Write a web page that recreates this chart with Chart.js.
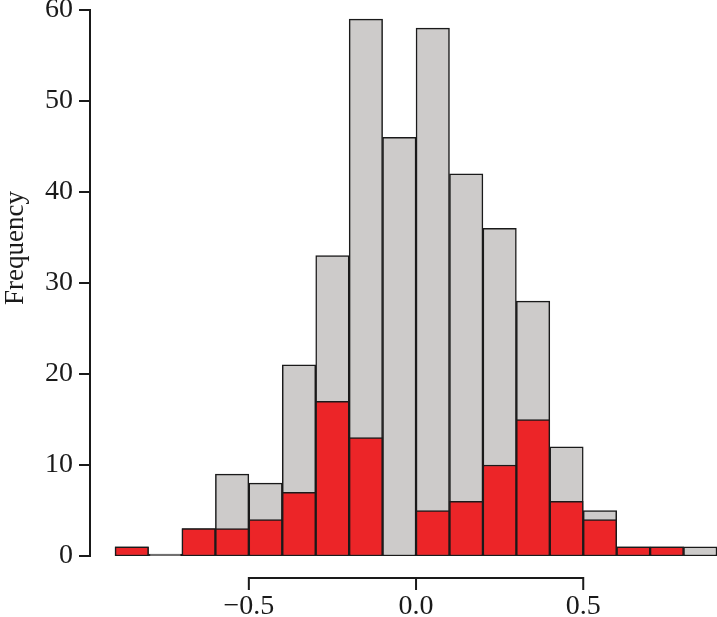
<!DOCTYPE html>
<html>
<head>
<meta charset="utf-8">
<script src="https://cdn.jsdelivr.net/npm/chart.js@4"></script>
<style>
html,body{margin:0;padding:0;background:#fff;}
#wrap{width:717px;height:617px;}
</style>
</head>
<body>
<div id="wrap"><canvas id="c" width="717" height="617"></canvas></div>
<script>
// Histogram bins (width 0.1), centers
const binCenters = [-0.85,-0.75,-0.65,-0.55,-0.45,-0.35,-0.25,-0.15,-0.05,0.05,0.15,0.25,0.35,0.45,0.55,0.65,0.75,0.85];
// All observations (grey)
const totalCounts = [1,0,3,9,8,21,33,59,46,58,42,36,28,12,5,1,1,1];
// Subset (red)
const subsetCounts = [1,0,3,3,4,7,17,13,0,5,6,10,15,6,4,1,1,0];
// Axis ticks
const xTicks = [-0.5, 0.0, 0.5];
const yTicks = [0,10,20,30,40,50,60];
const yTitle = 'Frequency';

const FONT = '"Liberation Serif", "Times New Roman", serif';
const INK = '#1a1a1a';

const axesPlugin = {
  id: 'rAxes',
  afterDraw(chart) {
    const ctx = chart.ctx;
    const xs = chart.scales.x, ys = chart.scales.y;
    ctx.save();
    ctx.strokeStyle = INK;
    ctx.lineWidth = 2;
    ctx.lineCap = 'square';
    // y axis
    const yx = xs.left;
    ctx.beginPath();
    ctx.moveTo(yx, ys.getPixelForValue(yTicks[0]));
    ctx.lineTo(yx, ys.getPixelForValue(yTicks[yTicks.length-1]));
    yTicks.forEach(v => {
      const p = ys.getPixelForValue(v);
      ctx.moveTo(yx, p); ctx.lineTo(yx - 10, p);
    });
    ctx.stroke();
    // x axis
    const xy = ys.bottom + 22;
    ctx.beginPath();
    ctx.moveTo(xs.getPixelForValue(xTicks[0]), xy);
    ctx.lineTo(xs.getPixelForValue(xTicks[xTicks.length-1]), xy);
    xTicks.forEach(v => {
      const p = xs.getPixelForValue(v);
      ctx.moveTo(p, xy); ctx.lineTo(p, xy + 11);
    });
    ctx.stroke();
    // y title
    ctx.fillStyle = INK;
    ctx.font = '27px ' + FONT;
    ctx.textAlign = 'center';
    ctx.textBaseline = 'middle';
    ctx.translate(16, 248);
    ctx.rotate(-Math.PI/2);
    ctx.fillText(yTitle, 0, 0);
    ctx.restore();
  }
};

const fmtX = v => (v < 0 ? '\u2212' : '') + Math.abs(v).toFixed(1);

new Chart(document.getElementById('c'), {
  type: 'bar',
  data: {
    datasets: [
      {
        label: 'subset',
        data: binCenters.map((c, i) => ({x: c, y: subsetCounts[i]})),
        backgroundColor: '#ec2528',
        borderColor: INK,
        borderWidth: 1.5,
        borderSkipped: false,
        grouped: false,
        barPercentage: 1,
        categoryPercentage: 1
      },
      {
        label: 'total',
        data: binCenters.map((c, i) => ({x: c, y: totalCounts[i]})),
        backgroundColor: '#cdcbca',
        borderColor: INK,
        borderWidth: 1.5,
        borderSkipped: false,
        grouped: false,
        minBarLength: 2,
        barPercentage: 1,
        categoryPercentage: 1
      }
    ]
  },
  options: {
    responsive: false,
    animation: false,
    devicePixelRatio: 1,
    layout: { padding: { top: 10, right: 0, left: 0, bottom: 0 } },
    plugins: { legend: { display: false }, tooltip: { enabled: false } },
    scales: {
      x: {
        type: 'linear',
        offset: false,
        min: -0.975,
        max: 0.9,
        grid: { display: false, drawTicks: false },
        border: { display: false },
        afterBuildTicks: s => { s.ticks = xTicks.map(v => ({value: v})); },
        afterFit: s => { s.height = 61; s.paddingLeft = 0; s.paddingRight = 0; },
        ticks: {
          autoSkip: false,
          maxRotation: 0,
          padding: 34,
          color: INK,
          font: { family: FONT, size: 28 },
          callback: v => fmtX(v)
        }
      },
      y: {
        type: 'linear',
        min: 0,
        max: 60,
        grid: { display: false, drawTicks: false },
        border: { display: false },
        afterBuildTicks: s => { s.ticks = yTicks.map(v => ({value: v})); },
        afterFit: s => { s.width = 90; s.paddingTop = 0; s.paddingBottom = 0; },
        ticks: {
          padding: 17,
          color: INK,
          font: { family: FONT, size: 28 },
          callback: v => String(v)
        }
      }
    }
  },
  plugins: [axesPlugin]
});
</script>
</body>
</html>
